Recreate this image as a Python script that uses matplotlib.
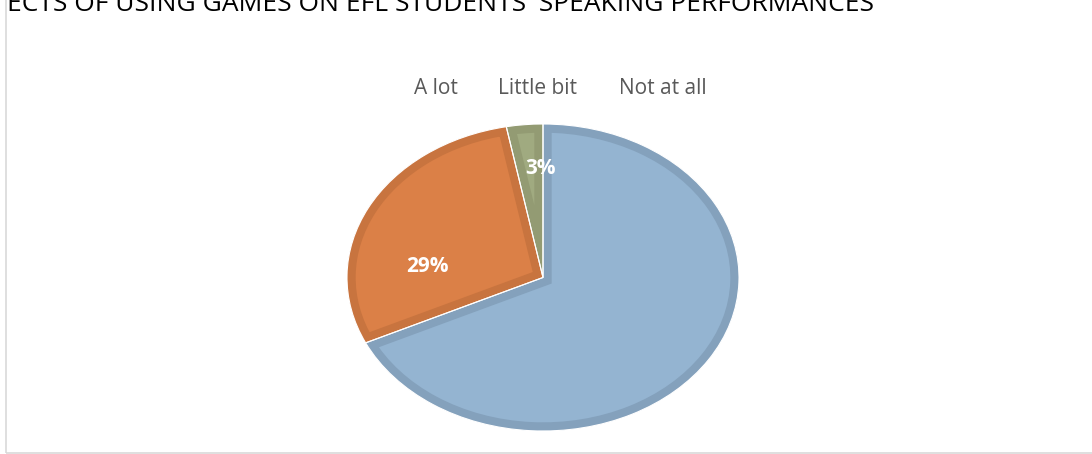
import matplotlib.pyplot as plt
from matplotlib.patches import Rectangle
from matplotlib.transforms import Bbox, TransformedBbox

categories = ['A lot', 'Little bit', 'Not at all']
percents = [68, 29, 3]
title = "EFFECTS OF USING GAMES ON EFL STUDENTS' SPEAKING PERFORMANCES"

fills = ['#94b4d1', '#db8047', '#a0aa80']
bands = ['#84a1bc', '#c8743f', '#939b73']

W, H = 1092, 454
fig = plt.figure(figsize=(W / 100, H / 100), dpi=100)

# pie area (pixel box of the ellipse)
cx, cy, rx, ry = 543, 277.5, 196, 153.5
ax = fig.add_axes([(cx - rx) / W, (H - cy - ry) / H, 2 * rx / W, 2 * ry / H])

wedges, _ = ax.pie(percents, colors=fills, startangle=90, counterclock=False,
                   wedgeprops=dict(linewidth=0))

# darker inner band on every slice: thick edge clipped to the slice itself
for w, b in zip(wedges, bands):
    w.set_edgecolor(b)
    w.set_linewidth(12.5)
    w.set_clip_on(True)
    w.set_clip_path(w)

# thin white separators
sep, _ = ax.pie(percents, startangle=90, counterclock=False,
                wedgeprops=dict(facecolor='none', edgecolor='white', linewidth=0.8))
ax.set_aspect('auto')
ax.set_xlim(-1, 1)
ax.set_ylim(-1, 1)
ax.axis('off')

# percentage labels (the big slice is left unlabeled)
label_pos = {'Little bit': (-0.59, 0.07), 'Not at all': (-0.015, 0.71)}
for name, p in zip(categories, percents):
    if name in label_pos:
        x, y = label_pos[name]
        ax.text(x, y, f'{p}%', color='white', fontsize=15, fontweight='bold',
                family='Open Sans', ha='center', va='center')

# legend as plain text entries
legend_x = [414, 498, 619]
for name, x in zip(categories, legend_x):
    fig.text(x / W, 1 - 88 / H, name, color='#595959', fontsize=15,
             family='Open Sans', ha='left', va='center')

# title, running off the top-left of the chart area:
# size it so "ECTS ... PERFORMANCES" spans 9..877 px
renderer = fig.canvas.get_renderer()
probe = fig.text(0, 0, title[3:], fontsize=10, family='Open Sans')
w10 = probe.get_window_extent(renderer).width
probe.set_text(title[:3])
lead10 = probe.get_window_extent(renderer).width
probe.remove()
tsize = 10 * 868 / w10
t = fig.text((7 - lead10 * tsize / 10) / W, 1 - 11 / H, title, color='black',
             fontsize=tsize, family='Open Sans', ha='left', va='baseline')
# the part left of the chart border is hidden
t.set_clip_box(TransformedBbox(Bbox([[8 / W, 0], [1, 1]]), fig.transFigure))
t.set_clip_on(True)

# chart border (only left and bottom edges are inside the image)
fig.patches.append(Rectangle((6 / W, 1.5 / H), 1.2, 1.2, transform=fig.transFigure,
                             facecolor='none', edgecolor='#d9d9d9', linewidth=1.2))

fig.savefig('out.png', dpi=100)
